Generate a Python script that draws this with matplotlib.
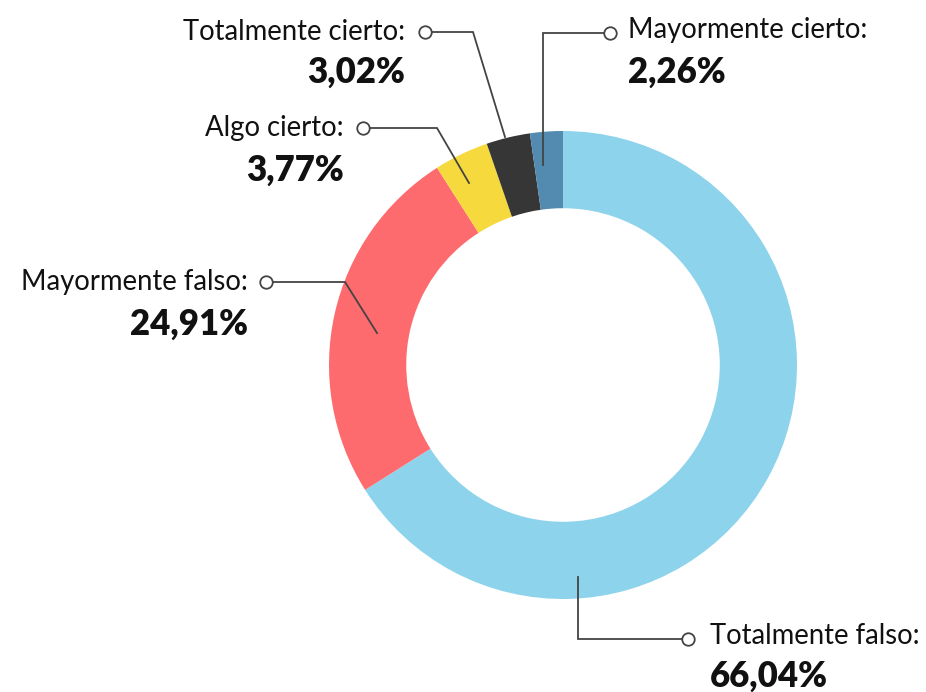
import matplotlib
matplotlib.use("Agg")
import matplotlib.pyplot as plt

categories = ["Totalmente falso", "Mayormente falso", "Algo cierto", "Totalmente cierto", "Mayormente cierto"]
values = [66.04, 24.91, 3.77, 3.02, 2.26]
value_labels = ["66,04%", "24,91%", "3,77%", "3,02%", "2,26%"]
colors = ["#8dd3eb", "#fe6b6f", "#f6d93c", "#363636", "#528ab0"]

W, H = 926, 692
fig = plt.figure(figsize=(W / 100, H / 100), dpi=100)
ax = fig.add_axes([0, 0, 1, 1])
ax.set_xlim(0, W)
ax.set_ylim(0, H)
ax.set_aspect("equal")
ax.axis("off")

def Y(y):
    return H - y

cx, cy, R = 563, 365, 234
ax.pie(values, colors=colors, startangle=90, counterclock=False,
       radius=R, center=(cx, Y(cy)), frame=True,
       wedgeprops=dict(width=R * 0.33, linewidth=0))
ax.set_xlim(0, W)
ax.set_ylim(0, H)
ax.axis("off")

font = "Lato"
lc = "#444444"

# leader line paths (pixel coords), circle at first point
leaders = {
    "Totalmente cierto": [(425, 32), (473, 32), (505, 137)],
    "Algo cierto": [(363, 128), (437, 128), (469, 183)],
    "Mayormente cierto": [(610, 33), (543, 33), (543, 165)],
    "Mayormente falso": [(266, 282), (345, 282), (377, 333)],
    "Totalmente falso": [(688, 639), (578, 639), (578, 577)],
}
texts = {
    "Totalmente cierto": (405, 32, 72, "right"),
    "Algo cierto": (344, 128, 170, "right"),
    "Mayormente cierto": (628, 30, 72, "left"),
    "Mayormente falso": (248, 282, 324, "right"),
    "Totalmente falso": (710, 636, 676, "left"),
}

for cat, val in zip(categories, value_labels):
    pts = leaders[cat]
    xs = [p[0] for p in pts]
    ys = [Y(p[1]) for p in pts]
    ax.plot(xs, ys, color=lc, lw=1.3, zorder=3, solid_joinstyle="miter")
    ax.plot(xs[0], ys[0], marker="o", ms=9, mfc="white", mec=lc, mew=1.3, zorder=4)
    tx, ty1, ty2, ha = texts[cat]
    ax.text(tx, Y(ty1), cat + ":", ha=ha, va="center", fontsize=19.8,
            family=font, color="#111111")
    ax.text(tx, Y(ty2), val, ha=ha, va="center", fontsize=25,
            family=font, fontweight="heavy", color="#111111")

fig.savefig("out.png", dpi=100)
